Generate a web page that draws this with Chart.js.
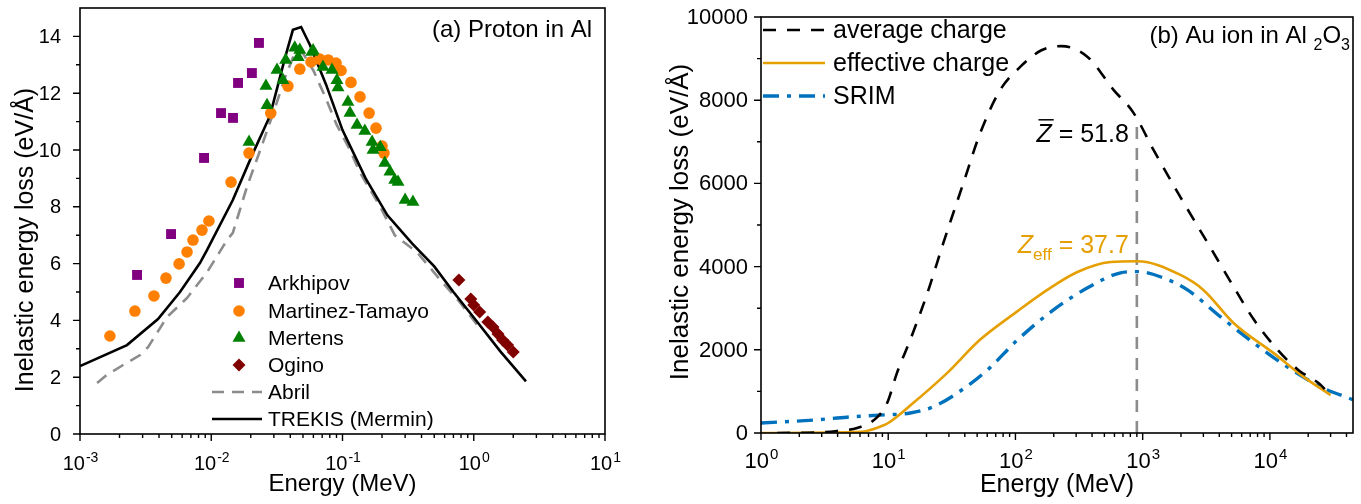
<!DOCTYPE html>
<html>
<head>
<meta charset="utf-8">
<script src="https://cdn.jsdelivr.net/npm/chart.js@4.4.1/dist/chart.umd.min.js"></script>
<style>
  body { margin: 0; background: #fff; }
  #wrap { position: relative; width: 1361px; height: 504px; }
  .box { position: absolute; top: 0; height: 504px; }
</style>
</head>
<body>
<div id="wrap">
  <div class="box" style="left:0;width:680px"><canvas id="chartA"></canvas></div>
  <div class="box" style="left:620px;width:741px"><canvas id="chartB"></canvas></div>
</div>
<script>
const FONT = '"Liberation Sans", Arial, sans-serif';

// ---- panel (a): proton in Al ----
const arkhipovE = [0.00272, 0.00494, 0.00881, 0.01187, 0.01465, 0.016, 0.0204, 0.0231];
const arkhipovV = [5.6, 7.04, 9.72, 11.3, 11.13, 12.36, 12.71, 13.77];

const martinezE = [0.00169, 0.00262, 0.00366, 0.00452, 0.00569, 0.00654, 0.00726, 0.0085, 0.0096, 0.01415, 0.0194, 0.0284, 0.0384, 0.0473, 0.0576, 0.0671, 0.0778, 0.0893, 0.0975, 0.116, 0.136, 0.1595, 0.18, 0.2, 0.207];
const martinezV = [3.45, 4.33, 4.86, 5.49, 5.99, 6.41, 6.83, 7.18, 7.5, 8.87, 9.89, 11.3, 12.25, 12.85, 13.1, 13.2, 13.17, 13.06, 12.8, 12.38, 11.87, 11.3, 10.77, 10.14, 9.89];

const mertensE = [0.0194, 0.0266, 0.0261, 0.0317, 0.0352, 0.0369, 0.0433, 0.0473, 0.046, 0.0584, 0.0597, 0.071, 0.0831, 0.0907, 0.0924, 0.11, 0.114, 0.129, 0.148, 0.168, 0.171, 0.194, 0.21, 0.23, 0.25, 0.265, 0.30, 0.344];
const mertensV = [10.28, 11.58, 12.25, 12.82, 12.46, 13.17, 13.6, 13.52, 13.27, 13.45, 13.5, 12.92, 12.82, 12.46, 12.2, 11.69, 11.3, 10.88, 10.67, 10.28, 10.0, 10.1, 9.54, 9.23, 8.94, 8.87, 8.24, 8.17];

const oginoE = [0.77, 0.95, 1.0, 1.11, 1.28, 1.40, 1.53, 1.66, 1.81, 2.0];
const oginoV = [5.42, 4.75, 4.54, 4.3, 3.94, 3.77, 3.52, 3.31, 3.13, 2.89];

const abrilE = [0.00135, 0.0016, 0.00213, 0.00287, 0.0033, 0.00386, 0.0046, 0.00654, 0.0093, 0.0132, 0.0146, 0.0187, 0.0247, 0.0306, 0.0366, 0.044, 0.05, 0.06, 0.075, 0.09, 0.114, 0.136, 0.194, 0.25, 0.37, 0.55, 0.78, 1.1];
const abrilV = [1.8, 2.08, 2.43, 2.78, 3.06, 3.56, 4.12, 4.79, 5.7, 6.83, 7.08, 8.7, 10.25, 11.48, 12.57, 13.5, 13.4, 12.8, 11.8, 10.9, 10.0, 9.2, 8.0, 7.0, 6.4, 5.45, 4.65, 3.75];

const trekisE = [0.001, 0.00228, 0.00393, 0.00578, 0.0082, 0.0093, 0.0146, 0.0208, 0.028, 0.0366, 0.0419, 0.0484, 0.0565, 0.075, 0.1, 0.15, 0.22, 0.34, 0.5, 0.7, 1.0, 1.6, 2.5];
const trekisV = [2.39, 3.13, 4.05, 5.0, 6.02, 6.48, 8.24, 9.89, 11.2, 13.27, 14.23, 14.33, 13.7, 12.3, 10.7, 9.0, 7.7, 6.7, 5.9, 5.0, 4.1, 2.9, 1.85];

const legendA = ['Arkhipov', 'Martinez-Tamayo', 'Mertens', 'Ogino', 'Abril', 'TREKIS (Mermin)'];
const xTicksA = [0.001, 0.01, 0.1, 1, 10];
const xExpA = ['-3', '-2', '-1', '0', '1'];
const yTicksA = [0, 2, 4, 6, 8, 10, 12, 14];

// ---- panel (b): Au ion in Al2O3 ----
const avgE = [1.34, 3.08, 3.96, 5.7, 8.2, 9.8, 11.7, 14.9, 20.3, 27, 38.9, 52.7, 76, 109, 160, 230, 369, 590, 850, 1220, 1980, 3240, 5200, 7500, 11500, 16800, 24100, 29000];
const avgV = [0, 20, 50, 120, 380, 720, 1440, 2240, 3360, 4550, 6000, 7200, 8250, 8800, 9200, 9300, 9040, 8250, 7690, 6800, 5670, 4570, 3510, 2720, 2000, 1510, 1200, 960];

const effE = [1, 5.3, 6.8, 8.6, 10, 15.7, 29, 52.6, 104, 178, 307, 560, 910, 1980, 3000, 5200, 10700, 18400, 30000];
const effV = [0, 20, 50, 150, 240, 720, 1440, 2240, 2930, 3440, 3870, 4110, 4130, 3800, 3440, 2640, 1920, 1350, 910];

const srimE = [1, 2.57, 4.74, 8.6, 14.9, 22.6, 34.9, 60, 104, 199, 369, 670, 910, 1390, 2250, 4100, 7500, 13700, 25000, 45000];
const srimV = [240, 310, 380, 430, 480, 630, 960, 1510, 2240, 2960, 3490, 3850, 3880, 3750, 3440, 2790, 2160, 1590, 1110, 800];

const markE = [900, 900];
const markV = [0, 7400];

const legendB = ['average charge', 'effective charge', 'SRIM'];
const xTicksB = [1, 10, 100, 1000, 10000];
const xExpB = ['0', '1', '2', '3', '4'];
const yTicksB = [0, 2000, 4000, 6000, 8000, 10000];

const toPts = (xs, ys) => xs.map((x, i) => ({ x: x, y: ys[i] }));

function minorLog(min, max) {
    const out = [];
    for (let d = Math.floor(Math.log10(min)); d <= Math.ceil(Math.log10(max)); d++) {
        for (let m = 2; m <= 9; m++) {
            const v = m * Math.pow(10, d);
            if (v > min && v < max) out.push(v);
        }
    }
    return out;
}

function drawPow(ctx, x, y, exp, fs) {
    ctx.font = fs + 'px ' + FONT;
    const wb = ctx.measureText('10').width;
    const efs = Math.round(fs * 0.68);
    ctx.font = efs + 'px ' + FONT;
    const we = ctx.measureText(exp).width;
    const x0 = x - (wb + we) / 2;
    ctx.textAlign = 'left';
    ctx.textBaseline = 'alphabetic';
    ctx.font = fs + 'px ' + FONT;
    ctx.fillText('10', x0, y);
    ctx.font = efs + 'px ' + FONT;
    ctx.fillText(exp, x0 + wb + 1, y - fs * 0.42);
}

function drawMarker(ctx, ds, x, y) {
    ctx.fillStyle = ds.pointBackgroundColor;
    ctx.strokeStyle = ds.pointBackgroundColor;
    Chart.helpers.drawPoint(ctx, { pointStyle: ds.pointStyle, radius: ds.pointRadius, rotation: 0, borderWidth: 0 }, x, y);
}

function framePlugin(cfg) {
    return {
        id: 'frame' + cfg.name,
        afterDraw(chart) {
            const ctx = chart.ctx;
            const a = chart.chartArea;
            const xs = chart.scales.x;
            const ys = chart.scales.y;
            ctx.save();
            ctx.setLineDash([]);
            ctx.strokeStyle = '#000';
            ctx.lineWidth = 1.6;
            ctx.strokeRect(a.left, a.top, a.right - a.left, a.bottom - a.top);

            // tick marks
            ctx.lineWidth = 1.4;
            ctx.beginPath();
            cfg.xMajor.forEach(v => {
                const px = xs.getPixelForValue(v);
                ctx.moveTo(px, a.bottom); ctx.lineTo(px, a.bottom + 7);
            });
            minorLog(xs.min, xs.max).forEach(v => {
                const px = xs.getPixelForValue(v);
                ctx.moveTo(px, a.bottom); ctx.lineTo(px, a.bottom + 4);
            });
            cfg.yMajor.forEach(v => {
                const py = ys.getPixelForValue(v);
                ctx.moveTo(a.left, py); ctx.lineTo(a.left - 7, py);
            });
            cfg.yMinor.forEach(v => {
                const py = ys.getPixelForValue(v);
                ctx.moveTo(a.left, py); ctx.lineTo(a.left - 4, py);
            });
            ctx.stroke();

            // tick labels
            ctx.fillStyle = '#000';
            cfg.xMajor.forEach((v, i) => {
                drawPow(ctx, xs.getPixelForValue(v), cfg.xLabelY, cfg.xExp[i], cfg.tickSize);
            });
            ctx.font = cfg.tickSize + 'px ' + FONT;
            ctx.textAlign = 'right';
            ctx.textBaseline = 'middle';
            cfg.yMajor.forEach(v => {
                ctx.fillText(String(v), a.left - cfg.yLabelGap, ys.getPixelForValue(v) + 1);
            });

            // axis titles
            ctx.font = cfg.titleSize + 'px ' + FONT;
            ctx.textAlign = 'center';
            ctx.textBaseline = 'alphabetic';
            ctx.fillText('Energy (MeV)', (a.left + a.right) / 2, cfg.xTitleY);
            ctx.save();
            ctx.font = cfg.yTitleSize + 'px ' + FONT;
            ctx.translate(cfg.yTitleX, cfg.yTitleY);
            ctx.rotate(-Math.PI / 2);
            ctx.fillText('Inelastic energy loss (eV/\u00C5)', 0, 0);
            ctx.restore();

            cfg.extra(chart, ctx, a, xs, ys);
            ctx.restore();
        }
    };
}

function lineSample(ctx, ds, x1, x2, y) {
    ctx.save();
    ctx.strokeStyle = ds.borderColor;
    ctx.lineWidth = ds.borderWidth;
    ctx.setLineDash(ds.borderDash || []);
    ctx.beginPath();
    ctx.moveTo(x1, y); ctx.lineTo(x2, y);
    ctx.stroke();
    ctx.restore();
}

// ---------------- chart (a) ----------------
const dsA = [
    { label: legendA[0], data: toPts(arkhipovE, arkhipovV), pointStyle: 'rect', pointRadius: 7, pointBackgroundColor: '#800080', pointBorderWidth: 0, order: 2 },
    { label: legendA[1], data: toPts(martinezE, martinezV), pointStyle: 'circle', pointRadius: 5.8, pointBackgroundColor: '#ff8000', pointBorderWidth: 0, order: 1 },
    { label: legendA[2], data: toPts(mertensE, mertensV), pointStyle: 'triangle', pointRadius: 7.5, pointBackgroundColor: '#008000', pointBorderWidth: 0, order: 0 },
    { label: legendA[3], data: toPts(oginoE, oginoV), pointStyle: 'rectRot', pointRadius: 6.5, pointBackgroundColor: '#800000', pointBorderWidth: 0, order: 3 },
    { label: legendA[4], data: toPts(abrilE, abrilV), showLine: true, pointRadius: 0, borderColor: '#8c8c8c', borderWidth: 2.6, borderDash: [12, 8], tension: 0, order: 5 },
    { label: legendA[5], data: toPts(trekisE, trekisV), showLine: true, pointRadius: 0, borderColor: '#000000', borderWidth: 2.6, tension: 0, order: 4 }
];

new Chart(document.getElementById('chartA'), {
    type: 'scatter',
    data: { datasets: dsA },
    options: {
        animation: false,
        responsive: true,
        maintainAspectRatio: false,
        events: [],
        layout: { padding: { left: 0, right: 75, top: 8, bottom: 0 } },
        plugins: { legend: { display: false }, tooltip: { enabled: false } },
        scales: {
            x: {
                type: 'logarithmic', min: 0.001, max: 10,
                grid: { display: false }, border: { display: false },
                ticks: { display: false },
                afterFit: s => { s.height = 70; }
            },
            y: {
                min: 0, max: 15,
                grid: { display: false }, border: { display: false },
                ticks: { display: false },
                afterFit: s => { s.width = 80; }
            }
        }
    },
    plugins: [framePlugin({
        name: 'A',
        xMajor: xTicksA, xExp: xExpA,
        yMajor: yTicksA, yMinor: [1, 3, 5, 7, 9, 11, 13],
        tickSize: 20, titleSize: 24, yTitleSize: 25, yLabelGap: 19,
        xLabelY: 470, xTitleY: 491,
        yTitleX: 33, yTitleY: 240,
        extra: (chart, ctx, a) => {
            ctx.fillStyle = '#000';
            ctx.font = '24px ' + FONT;
            ctx.textAlign = 'right';
            ctx.textBaseline = 'alphabetic';
            ctx.fillText('(a) Proton in Al', a.right - 13, a.top + 29);

            const ds = chart.data.datasets;
            const rows = [283, 311, 338, 365, 392, 419];
            ctx.font = '21px ' + FONT;
            ctx.textAlign = 'left';
            ctx.textBaseline = 'middle';
            ds.forEach((d, i) => {
                if (d.showLine) lineSample(ctx, d, 212, 262, rows[i]);
                else drawMarker(ctx, d, 239, rows[i]);
                ctx.fillStyle = '#000';
                ctx.fillText(legendA[i], 268, rows[i] + 1);
            });
        }
    })]
});

// ---------------- chart (b) ----------------
const dsB = [
    { label: legendB[0], data: toPts(avgE, avgV), showLine: true, pointRadius: 0, borderColor: '#000000', borderWidth: 2.6, borderDash: [13, 11], cubicInterpolationMode: 'monotone', order: 0 },
    { label: legendB[1], data: toPts(effE, effV), showLine: true, pointRadius: 0, borderColor: '#e69f00', borderWidth: 2.6, cubicInterpolationMode: 'monotone', order: 1 },
    { label: legendB[2], data: toPts(srimE, srimV), showLine: true, pointRadius: 0, borderColor: '#0072bd', borderWidth: 3.4, borderDash: [16, 8, 4, 8], cubicInterpolationMode: 'monotone', order: 2 },
    { label: 'marker', data: toPts(markE, markV), showLine: true, pointRadius: 0, borderColor: '#8c8c8c', borderWidth: 2.6, borderDash: [12, 9], order: 3 }
];

new Chart(document.getElementById('chartB'), {
    type: 'scatter',
    data: { datasets: dsB },
    options: {
        animation: false,
        responsive: true,
        maintainAspectRatio: false,
        events: [],
        layout: { padding: { left: 0, right: 8, top: 17, bottom: 0 } },
        plugins: { legend: { display: false }, tooltip: { enabled: false } },
        scales: {
            x: {
                type: 'logarithmic', min: 1, max: 45000,
                grid: { display: false }, border: { display: false },
                ticks: { display: false },
                afterFit: s => { s.height = 71; }
            },
            y: {
                min: 0, max: 10000,
                grid: { display: false }, border: { display: false },
                ticks: { display: false },
                afterFit: s => { s.width = 141; }
            }
        }
    },
    plugins: [framePlugin({
        name: 'B',
        xMajor: xTicksB, xExp: xExpB,
        yMajor: yTicksB, yMinor: [1000, 3000, 5000, 7000, 9000],
        tickSize: 22, titleSize: 25, yTitleSize: 26, yLabelGap: 13,
        xLabelY: 468, xTitleY: 492,
        yTitleX: 68, yTitleY: 222,
        extra: (chart, ctx, a, xs, ys) => {
            ctx.fillStyle = '#000';
            ctx.textBaseline = 'alphabetic';
            // panel title with subscripts, right aligned
            const parts = [['(b) Au ion in Al ', 24, 0], ['2', 16, 7], ['O', 24, 0], ['3', 16, 7]];
            let w = 0;
            parts.forEach(p => { ctx.font = p[1] + 'px ' + FONT; w += ctx.measureText(p[0]).width; });
            let x = a.right - 3 - w;
            ctx.textAlign = 'left';
            parts.forEach(p => {
                ctx.font = p[1] + 'px ' + FONT;
                ctx.fillText(p[0], x, a.top + 26 + p[2]);
                x += ctx.measureText(p[0]).width;
            });

            // legend
            const ds = chart.data.datasets;
            const rows = [30, 63, 96];
            const lx = a.left + 2;
            ctx.font = '25px ' + FONT;
            ctx.textBaseline = 'middle';
            legendB.forEach((t, i) => {
                lineSample(ctx, ds[i], lx, lx + 62, rows[i]);
                ctx.fillStyle = '#000';
                ctx.fillText(t, lx + 70, rows[i] + 1);
            });

            // annotations anchored to the marker energy
            const px = xs.getPixelForValue(markE[0]) - 8;
            ctx.textBaseline = 'alphabetic';
            ctx.font = '25px ' + FONT;
            const rest1 = ' = 51.8';
            const r1w = ctx.measureText(rest1).width;
            const yb1 = ys.getPixelForValue(7000);
            ctx.textAlign = 'right';
            ctx.fillText(rest1, px, yb1);
            ctx.font = 'italic 25px ' + FONT;
            const zw = ctx.measureText('Z').width;
            ctx.fillText('Z', px - r1w, yb1);
            ctx.lineWidth = 1.5;
            ctx.strokeStyle = '#000';
            ctx.beginPath();
            ctx.moveTo(px - r1w - zw + 2, yb1 - 22);
            ctx.lineTo(px - r1w + 2, yb1 - 22);
            ctx.stroke();

            ctx.fillStyle = '#e69f00';
            const yb2 = ys.getPixelForValue(4330);
            ctx.font = '25px ' + FONT;
            const rest2 = ' = 37.7';
            const r2w = ctx.measureText(rest2).width;
            ctx.fillText(rest2, px, yb2);
            ctx.font = '17px ' + FONT;
            const ew = ctx.measureText('eff').width;
            ctx.fillText('eff', px - r2w, yb2 + 7);
            ctx.font = 'italic 25px ' + FONT;
            ctx.fillText('Z', px - r2w - ew, yb2);
        }
    })]
});
</script>
</body>
</html>
